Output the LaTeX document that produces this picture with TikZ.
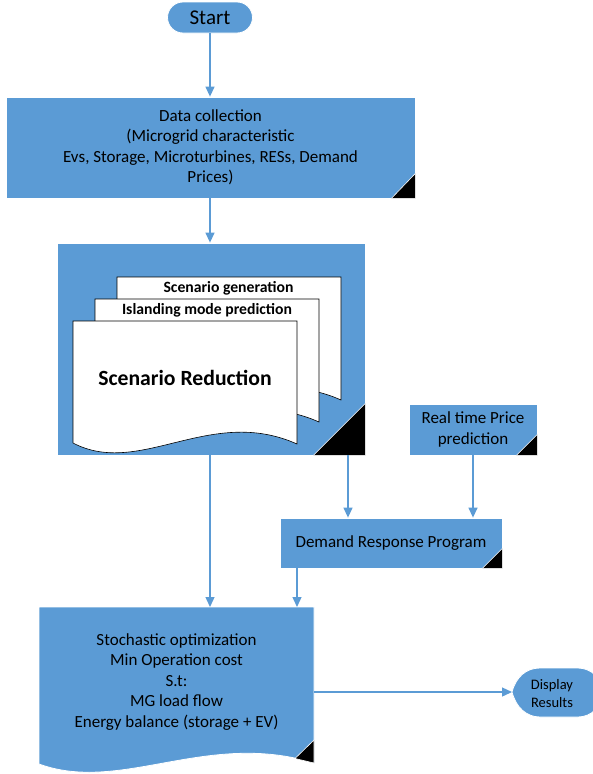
\documentclass[tikz,border=0pt]{standalone}
\usepackage{fontspec}
\setmainfont{Carlito}
\usetikzlibrary{arrows.meta,shapes.misc}
\definecolor{mblue}{HTML}{5B9BD5}
\begin{document}
\begin{tikzpicture}[x=1pt,y=-1pt,
  box/.style={draw=white, line width=0.8pt, fill=mblue, inner sep=0pt, align=center, font=\fontsize{17}{20.5}\selectfont},
  flow/.style={draw=mblue, line width=1.3pt, -{Triangle[width=9pt,length=10pt]}},
  doc/.style={draw=black, line width=0.6pt, fill=white},
  corner/.style={fill=black, draw=white, line width=0.6pt},
  doctext/.style={font=\bfseries\fontsize{15.7}{18}\selectfont, inner sep=0pt}]
\useasboundingbox (0,0) rectangle (593,774);
\clip (0,0) rectangle (593,774);

% Start
\node[box, rounded rectangle, minimum width=85pt, minimum height=31pt,
      font=\fontsize{21}{24}\selectfont] (start) at (210,17.5) {Start};

% Data collection
\node[box, minimum width=409pt, minimum height=101pt] (data) at (210.5,147.5)
  {Data collection\\(Microgrid characteristic\\Evs, Storage, Microturbines, RESs, Demand\\Prices)};
\filldraw[corner] (data.south east) -- ++(0,-25) -- ++(-24,25) -- cycle;

% Big scenario box
\node[box, minimum width=308pt, minimum height=212pt] (big) at (211,349) {};
% back document
\filldraw[doc] (117,277) -- (341,277) -- (341,400) .. controls (254,361) and (184,434) .. (117,399) -- cycle;
% middle document
\filldraw[doc] (95,299) -- (319,299) -- (319,422) .. controls (232,383) and (162,456) .. (95,421) -- cycle;
% front document
\filldraw[doc] (73,321) -- (297,321) -- (297,444) .. controls (210,405) and (140,478) .. (73,443) -- cycle;
\node[doctext] (tgen) at (228.5,288.5) {Scenario generation};
\node[doctext] (tisl) at (207,310.5) {Islanding mode prediction};
\node[font=\bfseries\fontsize{21.7}{24}\selectfont, inner sep=0pt] (tred) at (185,378) {Scenario Reduction};
\filldraw[corner] (big.south east) -- ++(0,-52) -- ++(-52,52) -- cycle;

% Real time price prediction
\node[box, minimum width=128pt, minimum height=51pt] (rtp) at (473,429.5) {Real time Price\\prediction};
\filldraw[corner] (rtp.south east) -- ++(0,-21) -- ++(-21,21) -- cycle;

% Demand response program
\node[box, minimum width=222pt, minimum height=50pt] (dr) at (391,543) {Demand Response Program};
\filldraw[corner] (dr.south east) -- ++(0,-20) -- ++(-20,20) -- cycle;

% Stochastic optimization (document shape)
\filldraw[draw=white, line width=0.8pt, fill=mblue]
  (39,607) -- (314,607) -- (314,763) .. controls (207,730) and (121,794) .. (39,764) -- cycle;
\filldraw[corner] (314,740) -- (295,758.5) -- (314,763) -- cycle;
\node[align=center, font=\fontsize{17}{20.5}\selectfont, inner sep=0pt] (stoch) at (176.5,682)
  {Stochastic optimization\\Min Operation cost\\S.t:\\MG load flow\\Energy balance (storage + EV)};
\coordinate (stA) at (210,607);
\coordinate (stB) at (297,607);
\coordinate (stR) at (314,692);

% Display results
\filldraw[draw=white, line width=0.8pt, fill=mblue]
  (512,692) .. controls (516,677) and (526,668) .. (540,668) -- (578,668)
  arc[start angle=-90, end angle=90, radius=24.5] -- (540,717)
  .. controls (526,717) and (516,707) .. (512,692) -- cycle;
\coordinate (dispTip) at (512,692);
\node[align=center, font=\fontsize{14.5}{18}\selectfont, inner sep=0pt] (disp) at (552,694) {Display\\Results};

% Connectors
\draw[flow] (start.south) -- (start.south |- data.north);
\draw[flow] (data.south -| start.south) -- (start.south |- big.north);
\draw[flow] (big.south -| stA) -- (stA);
\path (big.south) ++(137,0) coordinate (bigOut);
\draw[flow] (bigOut) -- (bigOut |- dr.north);
\draw[flow] (rtp.south) -- (rtp.south |- dr.north);
\draw[flow] (dr.south -| stB) -- (stB);
\draw[flow] (stR) -- (dispTip);
\end{tikzpicture}
\end{document}
